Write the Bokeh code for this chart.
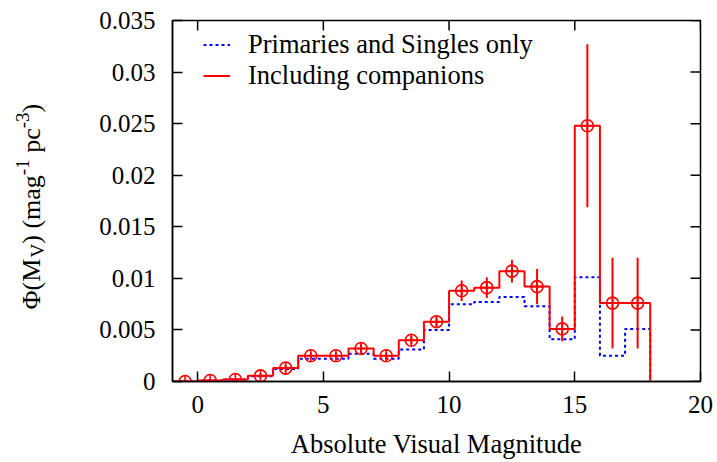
import numpy as np
from bokeh.plotting import figure
from bokeh.layouts import row
from bokeh.models import (ColumnDataSource, FixedTicker, Legend, LegendItem, Range1d)
from bokeh.core.properties import value
from bokeh.embed import file_html
from bokeh.resources import INLINE

# ---- data ----
bin_centers = [-0.5, 0.5, 1.5, 2.5, 3.5, 4.5, 5.5, 6.5, 7.5, 8.5, 9.5,
               10.5, 11.5, 12.5, 13.5, 14.5, 15.5, 16.5, 17.5]
primaries_only = [0.0, 0.0001, 0.0002, 0.0005, 0.0012, 0.0022, 0.0022, 0.0027, 0.0022,
                  0.0031, 0.0050, 0.0075, 0.0077, 0.0082, 0.0073, 0.0041, 0.0101,
                  0.0025, 0.0051]
with_companions = [0.0, 0.0001, 0.0002, 0.00055, 0.0013, 0.0025, 0.0025, 0.0032, 0.0025,
                   0.0040, 0.0058, 0.0088, 0.0091, 0.0107, 0.0092, 0.0051, 0.0248,
                   0.0076, 0.0076]
companion_errors = [0.0, 0.0001, 0.0001, 0.0002, 0.0003, 0.0003, 0.0003, 0.0004, 0.0003,
                    0.0004, 0.0005, 0.0010, 0.0010, 0.0011, 0.0017, 0.0012, 0.0079,
                    0.0044, 0.0044]
bin_width = 1.0

x_min, x_max = -1, 20
y_min, y_max = 0, 0.035
x_ticks = [0, 5, 10, 15, 20]
x_tick_labels = ["0", "5", "10", "15", "20"]
y_ticks = [0, 0.005, 0.01, 0.015, 0.02, 0.025, 0.03, 0.035]
y_tick_labels = ["0", "0.005", "0.01", "0.015", "0.02", "0.025", "0.03", "0.035"]

legend_labels = ["Primaries and Singles only", "Including companions"]
x_title = "Absolute Visual Magnitude"
# y title pieces: (text, kind) kind: main / sub / sup
y_title_pieces = [("\u03a6(M", "main"), ("V", "sub"), (") (mag", "main"),
                  ("-1", "sup"), (" pc", "main"), ("-3", "sup"), (")", "main")]

FONT = "Liberation Serif"
RED = "#ff0000"
BLUE = "#0000ff"


def step_outline(centers, vals, w):
    c = np.asarray(centers, dtype=float)
    v = np.asarray(vals, dtype=float)
    edges = np.concatenate([c - w / 2, [c[-1] + w / 2]])
    xs = np.repeat(edges, 2)[1:-1]
    ys = np.repeat(v, 2)
    xs = np.concatenate([xs, [edges[-1]]])
    ys = np.concatenate([ys, [0.0]])
    return xs, ys


LEFT_W = 60
W, H = 717, 462
B_TOP, B_BOTTOM = 20, 81

p = figure(width=W - LEFT_W, height=H, output_backend="svg", toolbar_location=None,
           x_range=Range1d(x_min, x_max), y_range=Range1d(y_min, y_max),
           min_border_left=172 - LEFT_W, min_border_right=17, min_border_top=B_TOP,
           min_border_bottom=B_BOTTOM)
p.xgrid.visible = False
p.ygrid.visible = False
p.outline_line_color = "black"
p.outline_line_width = 1.5
p.background_fill_color = "white"
p.border_fill_color = "white"

bx, by = step_outline(bin_centers, primaries_only, bin_width)
rx, ry = step_outline(bin_centers, with_companions, bin_width)

r_blue = p.line(bx, by, line_color=BLUE, line_width=2, line_dash="3 3")
r_red = p.line(rx, ry, line_color=RED, line_width=2)

c = np.asarray(with_companions)
e = np.asarray(companion_errors)
src = ColumnDataSource(dict(x=bin_centers, y=with_companions,
                            lo=list(c - e), hi=list(c + e)))
p.segment(x0="x", y0="lo", x1="x", y1="hi", source=src, line_color=RED, line_width=2)
p.scatter(x="x", y="y", source=src, marker="circle_cross", size=12,
          line_color=RED, fill_color=None, line_width=1.6)

# mirrored inward ticks on top and right edges
p.ray(x=x_ticks, y=[y_max] * len(x_ticks), length=10, length_units="screen",
      angle=-np.pi / 2, line_color="black", line_width=1.5)
p.ray(x=[x_max] * len(y_ticks), y=y_ticks, length=10, length_units="screen",
      angle=np.pi, line_color="black", line_width=1.5)

# axes
for ax, ticks, labels in ((p.xaxis[0], x_ticks, x_tick_labels),
                          (p.yaxis[0], y_ticks, y_tick_labels)):
    ax.ticker = FixedTicker(ticks=ticks)
    ax.minor_tick_line_color = None
    ax.major_tick_in = 10
    ax.major_tick_out = 0
    ax.major_tick_line_width = 1.5
    ax.axis_line_width = 1.5
    ax.major_label_text_font = FONT
    ax.major_label_text_color = "black"
    ax.major_label_overrides = {t: l for t, l in zip(ticks, labels)}
    ax.major_label_text_font_size = "25px"

xa = p.xaxis[0]
ya = p.yaxis[0]
xa.major_label_standoff = 14
ya.major_label_standoff = 17
xa.axis_label = x_title
xa.axis_label_text_font = FONT
xa.axis_label_text_font_size = "26.5px"
xa.axis_label_text_font_style = "normal"
xa.axis_label_text_color = "black"
xa.axis_label_standoff = 13

# legend
legend = Legend(items=[LegendItem(label=legend_labels[0], renderers=[r_blue]),
                       LegendItem(label=legend_labels[1], renderers=[r_red])],
                location=(31, 290))
legend.border_line_color = None
legend.background_fill_alpha = 0
legend.padding = 0
legend.margin = 0
legend.spacing = 0
legend.glyph_width = 27
legend.glyph_height = 27
legend.label_height = 27
legend.label_standoff = 18
legend.label_text_font = FONT
legend.label_text_font_size = "26.5px"
legend.label_text_color = "black"
p.add_layout(legend)

# ---- left strip holding the rotated y title (with sub/superscripts) ----
# the row aligns this strip's frame with the main frame, so map its y range to
# page pixels counted from the bottom of the window
lab = figure(width=LEFT_W, height=H, output_backend="svg", toolbar_location=None,
             x_range=Range1d(0, LEFT_W), y_range=Range1d(B_BOTTOM, H - B_TOP),
             x_axis_type=None, y_axis_type=None, min_border=0,
             min_border_top=B_TOP, min_border_bottom=B_BOTTOM,
             outline_line_color=None)
lab.xgrid.visible = False
lab.ygrid.visible = False

sizes = {"main": 26, "sub": 19, "sup": 19}
xcol = {"main": 31, "sub": 37, "sup": 22}
em = {"\u03a6": 0.78, "(": 0.333, ")": 0.333, "M": 0.889, "V": 0.722, " ": 0.25,
      "m": 0.778, "a": 0.444, "g": 0.5, "-": 0.333, "1": 0.5, "3": 0.5,
      "p": 0.5, "c": 0.444}
pos = 153.0
for txt, kind in y_title_pieces:
    fs = sizes[kind]
    lead = len(txt) - len(txt.lstrip(" "))
    pos += lead * em[" "] * fs          # leading blanks become an offset
    shown = txt.lstrip(" ")
    lab.text(x=[xcol[kind]], y=[pos], text=[shown], angle=np.pi / 2,
             text_align="left", text_baseline="middle",
             text_font=value(FONT), text_font_size=value(f"{fs}px"),
             text_color="black")
    pos += sum(em[ch] for ch in shown) * fs

layout = row(lab, p, spacing=0)
open("out.html", "w").write(file_html(layout, INLINE))
